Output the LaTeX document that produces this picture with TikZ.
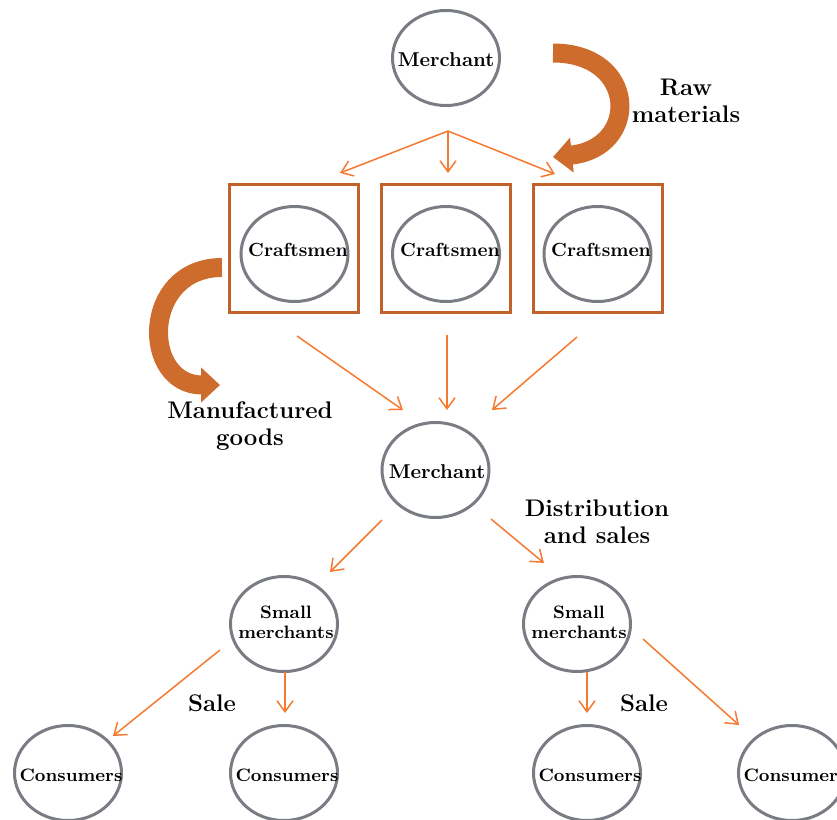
\documentclass[tikz,border=0pt]{standalone}
\usepackage{amsmath}
\usepackage{amssymb}
\usepackage{tikz}
\usetikzlibrary{shapes.geometric,arrows.meta}

\definecolor{ovalgray}{RGB}{122,124,132}
\definecolor{boxbrown}{RGB}{192,98,42}
\definecolor{thinorange}{RGB}{245,122,48}
\definecolor{bigorange}{RGB}{206,108,46}

\tikzset{
  oval/.style={ellipse, draw=ovalgray, line width=1.5pt, minimum width=53.5pt, minimum height=47.5pt, inner sep=0pt},
  crbox/.style={draw=boxbrown, line width=1.5pt, minimum width=64.5pt, minimum height=64pt, inner sep=0pt},
  nodetxt/.style={inner sep=0pt, font=\bfseries\fontsize{9.5}{10}\selectfont, align=center},
  lbl/.style={inner sep=0pt, font=\bfseries\fontsize{12}{13.5}\selectfont, align=center},
  flow/.style={draw=thinorange, line width=0.75pt, -{Straight Barb[length=5.5pt,width=8pt]}},
  bigflow/.style={draw=bigorange, line width=9.5pt, -{Triangle[length=9.5pt,width=17pt]}},
}

\begin{document}
\begin{tikzpicture}[x=0.5pt,y=0.5pt,yscale=-1,xscale=1]
        \useasboundingbox (0,0) rectangle (837,820);

        %Shape: Ellipse [merchant top]
        \node [oval] (mtop) at (446,58) {};
        \node [nodetxt, font=\bfseries\fontsize{10}{11}\selectfont] (mtopt) at (446,60) {Merchant};

        %Shape: Boxes with craftsmen
        \node [crbox] (box1) at (294,248.5) {};
        \node [crbox] (box2) at (446,248.5) {};
        \node [crbox] (box3) at (597.5,248.5) {};
        \node [oval] (cr1) at (294.5,254) {};
        \node [oval] (cr2) at (446,254) {};
        \node [oval] (cr3) at (597.5,254) {};
        \node [nodetxt] (cr1t) at (298,250) {Craftsmen};
        \node [nodetxt] (cr2t) at (450,250) {Craftsmen};
        \node [nodetxt] (cr3t) at (601,250) {Craftsmen};

        %Shape: Ellipse [merchant middle]
        \node [oval] (mmid) at (435.5,470) {};
        \node [nodetxt, font=\bfseries\fontsize{10}{11}\selectfont] (mmidt) at (437,472) {Merchant};

        %Shape: Ellipse [small merchants]
        \node [oval] (sm1) at (284,624) {};
        \node [oval] (sm2) at (577,624) {};
        \node [nodetxt, font=\bfseries\fontsize{9}{10}\selectfont] (sm1t) at (286,622) {Small\\merchants};
        \node [nodetxt, font=\bfseries\fontsize{9}{10}\selectfont] (sm2t) at (579,622) {Small\\merchants};

        %Shape: Ellipse [consumers]
        \node [oval] (cs1) at (68,773) {};
        \node [oval] (cs2) at (284,773) {};
        \node [oval] (cs3) at (587,773) {};
        \node [oval] (cs4) at (792,773) {};
        \node [nodetxt, font=\bfseries\fontsize{9}{10}\selectfont] (cs1t) at (71,775) {Consumers};
        \node [nodetxt, font=\bfseries\fontsize{9}{10}\selectfont] (cs2t) at (287,775) {Consumers};
        \node [nodetxt, font=\bfseries\fontsize{9}{10}\selectfont] (cs3t) at (590,775) {Consumers};
        \node [nodetxt, font=\bfseries\fontsize{9}{10}\selectfont] (cs4t) at (795,775) {Consumers};

        %Curved Arrows
        \draw [bigflow] (553,53) .. controls (638,53) and (640,148) .. (553,157);
        \draw [bigflow] (222,267.5) .. controls (141,267.5) and (141,385) .. (220,385);

        %Straight Lines [merchant to craftsmen]
        \coordinate (split) at (448,131);
        \coordinate (t1) at (340,173);
        \coordinate (t2) at (448,173);
        \coordinate (t3) at (555,174);
        \draw [flow] (split) -- (t1);
        \draw [flow] (split) -- (t2);
        \draw [flow] (split) -- (t3);

        %Straight Lines [craftsmen to merchant]
        \coordinate (c1s) at (297,336);
        \coordinate (c1e) at (403,410);
        \coordinate (c2s) at (447,335);
        \coordinate (c2e) at (447,410);
        \coordinate (c3s) at (577,337);
        \coordinate (c3e) at (492,410);
        \draw [flow] (c1s) -- (c1e);
        \draw [flow] (c2s) -- (c2e);
        \draw [flow] (c3s) -- (c3e);

        %Straight Lines [merchant to small merchants]
        \coordinate (d1s) at (382,520);
        \coordinate (d1e) at (330,572);
        \coordinate (d2s) at (491,519);
        \coordinate (d2e) at (544,563);
        \draw [flow] (d1s) -- (d1e);
        \draw [flow] (d2s) -- (d2e);

        %Straight Lines [small merchants to consumers]
        \coordinate (s1s) at (220,650);
        \coordinate (s1e) at (113,736);
        \coordinate (s2s) at (285,672);
        \coordinate (s2e) at (285,713);
        \coordinate (s3s) at (587,672);
        \coordinate (s3e) at (587,713);
        \coordinate (s4s) at (643,639);
        \coordinate (s4e) at (739,725);
        \draw [flow] (s1s) -- (s1e);
        \draw [flow] (s2s) -- (s2e);
        \draw [flow] (s3s) -- (s3e);
        \draw [flow] (s4s) -- (s4e);

        % Text Node
        \node [lbl] (rawlbl) at (686,101) {Raw\\materials};
        % Text Node
        \node [lbl] (mfglbl) at (250,426) {Manufactured\\goods};
        % Text Node
        \node [lbl] (distlbl) at (597,522) {Distribution\\and sales};
        % Text Node
        \node [lbl] (sale1) at (212,703) {Sale};
        % Text Node
        \node [lbl] (sale2) at (644,703) {Sale};

\end{tikzpicture}
\end{document}
